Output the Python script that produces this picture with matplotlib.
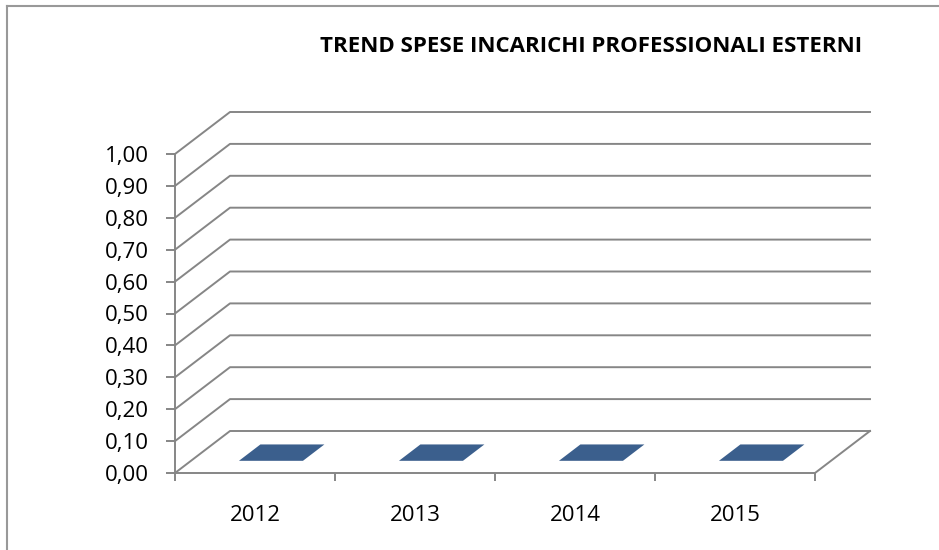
import matplotlib.pyplot as plt
from matplotlib.lines import Line2D
from matplotlib.patches import Polygon

# dati del grafico
anni = ['2012', '2013', '2014', '2015']
spese = [0.0, 0.0, 0.0, 0.0]
valori_asse = [0.0, 0.1, 0.2, 0.3, 0.4, 0.5, 0.6, 0.7, 0.8, 0.9, 1.0]
titolo = 'TREND SPESE INCARICHI PROFESSIONALI ESTERNI'

GRIGIO = '#868686'
BLU = '#3b5f8d'
BLU_SCURO = '#2e4a6e'

# prospettiva obliqua (in unita' dati): spostamento della parete di fondo
DX = 55 / 160
DY = 42 / 319


def proietta(x, y, z):
    # z = profondita' da 0 (fronte) a 1 (fondo)
    return (x + z * DX, y + z * DY)


fig = plt.figure(figsize=(9.39, 5.5), dpi=100)
ax = fig.add_axes([175 / 939, 77 / 550, 640 / 939, 319 / 550])
ax.set_xlim(0, len(anni))
ax.set_ylim(0, 1)

# griglia sulla parete laterale e di fondo
for v in valori_asse:
    p0 = proietta(0, v, 0)
    p1 = proietta(0, v, 1)
    p2 = proietta(len(anni), v, 1)
    ax.add_line(Line2D([p0[0], p1[0], p2[0]], [p0[1], p1[1], p2[1]],
                       color=GRIGIO, lw=1.4, clip_on=False, zorder=1))

# bordo destro del pavimento
f1 = proietta(len(anni), 0, 1)
f2 = proietta(len(anni), 0, 0)
ax.add_line(Line2D([f1[0], f2[0]], [f1[1], f2[1]], color=GRIGIO, lw=1.4,
                   clip_on=False, zorder=1))

# colonne 3D
larg = 0.4
z0, z1 = 0.29, 0.68
for i, val in enumerate(spese):
    xc = i + 0.5
    xa, xb = xc - larg / 2, xc + larg / 2
    fronte = [proietta(xa, 0, z0), proietta(xb, 0, z0),
              proietta(xb, val, z0), proietta(xa, val, z0)]
    lato = [proietta(xb, 0, z0), proietta(xb, 0, z1),
            proietta(xb, val, z1), proietta(xb, val, z0)]
    cima = [proietta(xa, val, z0), proietta(xb, val, z0),
            proietta(xb, val, z1), proietta(xa, val, z1)]
    ax.add_patch(Polygon(fronte, closed=True, fc=BLU, ec='none', zorder=3))
    ax.add_patch(Polygon(lato, closed=True, fc=BLU_SCURO, ec='none', zorder=3))
    ax.add_patch(Polygon(cima, closed=True, fc=BLU, ec='none', zorder=4))

for lato in ['top', 'right']:
    ax.spines[lato].set_visible(False)
for lato in ['left', 'bottom']:
    ax.spines[lato].set_color(GRIGIO)
    ax.spines[lato].set_linewidth(1.4)

ax.set_yticks(valori_asse)
ax.set_yticklabels([('%.2f' % v).replace('.', ',') for v in valori_asse])
ax.set_xticks(range(len(anni) + 1))
ax.set_xticklabels([])
ax.set_xticks([i + 0.5 for i in range(len(anni))], minor=True)
ax.set_xticklabels(anni, minor=True)

ax.tick_params(axis='y', direction='out', length=6.5, width=1.4, color=GRIGIO,
               pad=12.5, labelsize=16)
ax.tick_params(axis='x', which='major', direction='out', length=6, width=1.4,
               color=GRIGIO)
ax.tick_params(axis='x', which='minor', length=0, pad=23, labelsize=16)
for t in ax.get_xticklabels(minor=True) + ax.get_yticklabels():
    t.set_fontfamily('Open Sans')
ax.patch.set_visible(False)

fig.text(591 / 939, 1 - 46 / 550, titolo, ha='center', va='center',
         fontsize=16, fontweight='bold', family='Open Sans')

# cornice dell'area grafico
fig.add_artist(Line2D([7 / 939, 7 / 939], [0, 1 - 6 / 550], color='#999999',
                      lw=1.5, transform=fig.transFigure))
fig.add_artist(Line2D([7 / 939, 1], [1 - 6 / 550, 1 - 6 / 550], color='#999999',
                      lw=1.5, transform=fig.transFigure))

fig.savefig('out.png', dpi=100)
